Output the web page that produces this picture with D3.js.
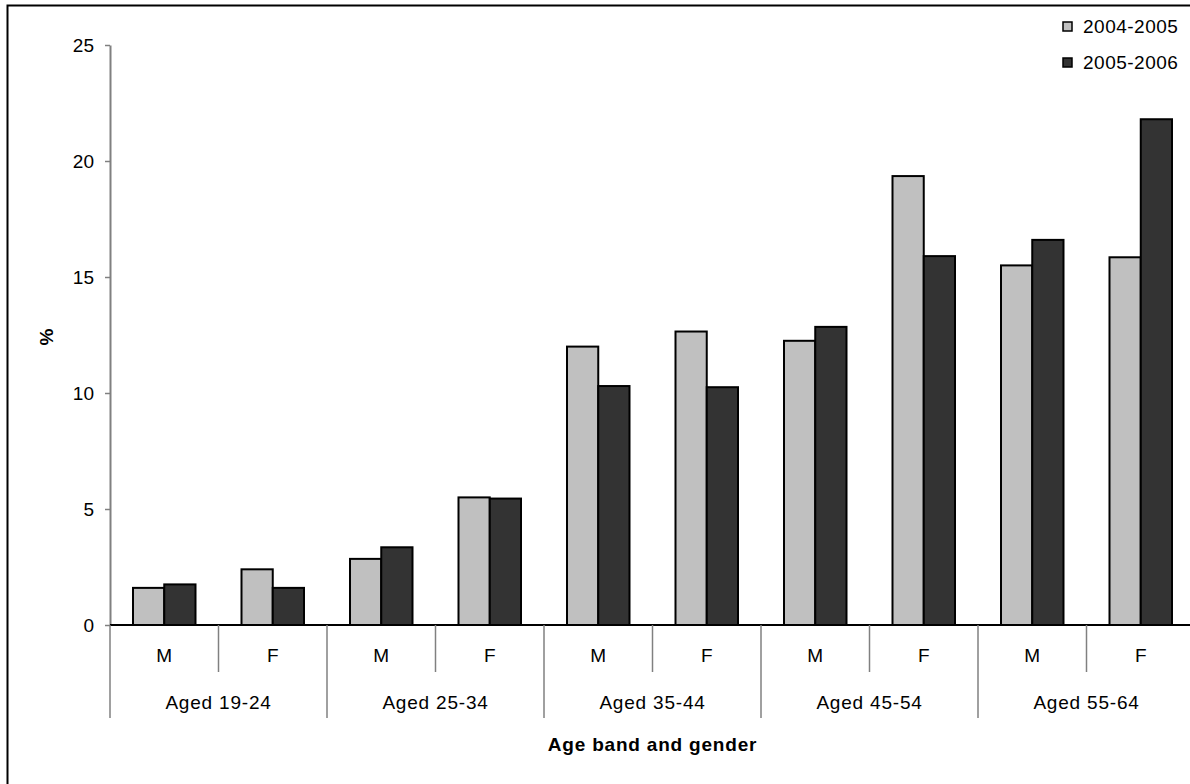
<!DOCTYPE html>
<html>
<head>
<meta charset="utf-8">
<script src="https://cdn.jsdelivr.net/npm/d3@7"></script>
<style>
    body { margin: 0; background: #fff; }
    svg { display: block; font-family: "Liberation Sans", Arial, sans-serif; }
</style>
</head>
<body>
<svg id="chart" width="1190" height="784"></svg>
<script>

const ageBands = ['Aged 19-24', 'Aged 25-34', 'Aged 35-44', 'Aged 45-54', 'Aged 55-64'];
const genders = ['M', 'F'];
const seriesNames = ['2004-2005', '2005-2006'];
const values2004 = [1.6, 2.4, 2.85, 5.5, 12.0, 12.65, 12.25, 19.35, 15.5, 15.85];
const values2005 = [1.75, 1.6, 3.35, 5.45, 10.3, 10.25, 12.85, 15.9, 16.6, 21.8];
const yTicks = [0, 5, 10, 15, 20, 25];

const colors = {'2004-2005': '#c0c0c0', '2005-2006': '#333333'};

// one row per age band + gender
const rows = [];
ageBands.forEach((age, i) => {
    genders.forEach((g, j) => {
        const k = i * genders.length + j;
        rows.push({key: `${age}|${g}`, age, gender: g, values: [values2004[k], values2005[k]]});
    });
});

const svg = d3.select('#chart');
const plot = {left: 110, right: 1195, top: 45, bottom: 625};

// outer frame
svg.append('rect')
    .attr('x', 7.5).attr('y', 5.5)
    .attr('width', 1200).attr('height', 800)
    .attr('fill', 'none')
    .attr('stroke', '#000')
    .attr('stroke-width', 2);

const x0 = d3.scaleBand()
    .domain(rows.map(d => d.key))
    .range([plot.left, plot.right])
    .padding(0);

const xGroup = d3.scaleBand()
    .domain(ageBands)
    .range([plot.left, plot.right])
    .padding(0);

const x1 = d3.scaleBand()
    .domain(seriesNames)
    .range([23, x0.bandwidth() - 23])
    .padding(0);

const y = d3.scaleLinear()
    .domain([0, 25])
    .range([plot.bottom, plot.top]);

// y axis
const yAxis = svg.append('g')
    .attr('transform', `translate(${plot.left},0)`)
    .call(d3.axisLeft(y).tickValues(yTicks).tickSize(5).tickPadding(11).tickSizeOuter(0));

yAxis.select('.domain').attr('stroke', '#808080').attr('stroke-width', 2);
yAxis.selectAll('.tick line').attr('stroke', '#808080').attr('stroke-width', 1.5);
yAxis.selectAll('.tick text')
    .attr('font-size', 19)
    .attr('font-family', '"Liberation Sans", Arial, sans-serif')
    .attr('fill', '#000');

// bars
const groups = svg.append('g')
    .selectAll('g')
    .data(rows)
    .join('g')
    .attr('transform', d => `translate(${x0(d.key)},0)`);

groups.selectAll('rect')
    .data(d => seriesNames.map((s, i) => ({series: s, value: d.values[i]})))
    .join('rect')
    .attr('x', d => x1(d.series))
    .attr('y', d => y(d.value))
    .attr('width', x1.bandwidth())
    .attr('height', d => y(0) - y(d.value))
    .attr('fill', d => colors[d.series])
    .attr('stroke', '#000')
    .attr('stroke-width', 2);

// x axis line
svg.append('line')
    .attr('x1', plot.left).attr('x2', plot.right)
    .attr('y1', y(0)).attr('y2', y(0))
    .attr('stroke', '#000')
    .attr('stroke-width', 2);

// category dividers
const divG = svg.append('g').attr('stroke', '#808080').attr('stroke-width', 1.5);

rows.forEach((d, i) => {
    if (i % 2 === 1) {
        divG.append('line')
            .attr('x1', x0(d.key)).attr('x2', x0(d.key))
            .attr('y1', y(0)).attr('y2', y(0) + 47);
    }
});

ageBands.forEach(age => {
    divG.append('line')
        .attr('x1', xGroup(age)).attr('x2', xGroup(age))
        .attr('y1', y(0)).attr('y2', y(0) + 93);
});

// gender labels
svg.append('g')
    .selectAll('text')
    .data(rows)
    .join('text')
    .attr('x', d => x0(d.key) + x0.bandwidth() / 2)
    .attr('y', y(0) + 37)
    .attr('text-anchor', 'middle')
    .attr('font-size', 19)
    .text(d => d.gender);

// age band labels
svg.append('g')
    .selectAll('text')
    .data(ageBands)
    .join('text')
    .attr('x', d => xGroup(d) + xGroup.bandwidth() / 2)
    .attr('y', y(0) + 84)
    .attr('text-anchor', 'middle')
    .attr('font-size', 19)
    .attr('letter-spacing', 0.8)
    .text(d => d);

// axis titles
svg.append('text')
    .attr('x', (plot.left + plot.right) / 2)
    .attr('y', 751)
    .attr('text-anchor', 'middle')
    .attr('font-size', 19)
    .attr('font-weight', 'bold')
    .attr('letter-spacing', 0.8)
    .text('Age band and gender');

svg.append('text')
    .attr('transform', 'translate(53,337) rotate(-90)')
    .attr('text-anchor', 'middle')
    .attr('font-size', 19)
    .attr('font-weight', 'bold')
    .text('%');

// legend
const legend = svg.append('g')
    .selectAll('g')
    .data(seriesNames)
    .join('g')
    .attr('transform', (d, i) => `translate(1063,${22 + i * 36})`);

legend.append('rect')
    .attr('width', 9).attr('height', 9)
    .attr('fill', d => colors[d])
    .attr('stroke', '#000')
    .attr('stroke-width', 1.5);

legend.append('text')
    .attr('x', 20)
    .attr('y', 11)
    .attr('font-size', 19)
    .attr('letter-spacing', 0.5)
    .text(d => d);

</script>
</body>
</html>
